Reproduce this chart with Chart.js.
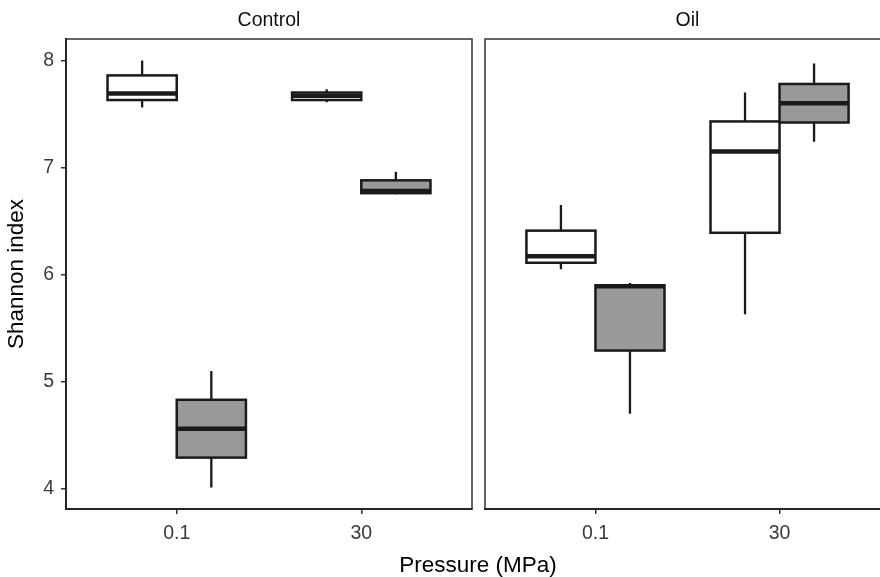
<!DOCTYPE html>
<html><head><meta charset="utf-8">
<script src="https://cdn.jsdelivr.net/npm/chart.js@4/dist/chart.umd.min.js"></script>
<style>
html,body{margin:0;padding:0;width:880px;height:577px;overflow:hidden;background:#fff;}
#c1{position:absolute;left:0;top:0;}
#c2{position:absolute;left:478px;top:0;}
#xt{position:absolute;left:328px;width:300px;top:551px;text-align:center;font-family:"Liberation Sans",Arial,sans-serif;font-size:22.5px;line-height:27px;color:#000;white-space:nowrap;}
</style></head><body>
<canvas id="c1" width="478" height="577"></canvas>
<canvas id="c2" width="420" height="577"></canvas>
<div id="xt">Pressure (MPa)</div>
<script>
// ---- data ----
const panels = ['Control', 'Oil'];
const pressures = ['0.1', '30'];
const yTicks = [4, 5, 6, 7, 8];
const yTitle = 'Shannon index';
const seriesNames = ['Group A', 'Group B']; // white, grey (no legend in original)
// each entry: [lower whisker, Q1, median, Q3, upper whisker], one per pressure
const controlWhite = [[7.56, 7.63, 7.69, 7.86, 8.00], [7.61, 7.63, 7.67, 7.70, 7.73]];
const controlGrey  = [[4.01, 4.29, 4.56, 4.83, 5.10], [6.75, 6.76, 6.78, 6.88, 6.96]];
const oilWhite     = [[6.05, 6.11, 6.17, 6.41, 6.65], [5.63, 6.39, 7.15, 7.43, 7.70]];
const oilGrey      = [[4.70, 5.29, 5.89, 5.90, 5.92], [7.24, 7.42, 7.60, 7.78, 7.97]];

// ---- styles ----
const FONT = '"Liberation Sans", Arial, sans-serif';
const fills = ['#ffffff', '#999999'];
const offsets = [-0.1875, 0.1875];
const halfW = 0.1875;
const LINE = '#1a1a1a';

const boxPlugin = {
  id: 'boxes',
  afterDatasetsDraw(chart, args, opts) {
    const { ctx, chartArea: ca, scales: { x, y } } = chart;
    ctx.save();
    opts.series.forEach((stats, si) => {
      stats.forEach((st, i) => {
        const c = (i + 1) + offsets[si];
        const xl = x.getPixelForValue(c - halfW);
        const xr = x.getPixelForValue(c + halfW);
        const xc = x.getPixelForValue(c);
        const [lo, q1, md, q3, hi] = st.map(v => y.getPixelForValue(v));
        ctx.strokeStyle = LINE;
        ctx.lineWidth = 2.3;
        ctx.beginPath();
        ctx.moveTo(xc, lo); ctx.lineTo(xc, q1);
        ctx.moveTo(xc, q3); ctx.lineTo(xc, hi);
        ctx.stroke();
        ctx.fillStyle = fills[si];
        ctx.fillRect(xl, q3, xr - xl, q1 - q3);
        ctx.lineWidth = 2.5;
        ctx.strokeRect(xl, q3, xr - xl, q1 - q3);
        ctx.lineWidth = 4.5;
        ctx.beginPath();
        ctx.moveTo(xl, md); ctx.lineTo(xr, md);
        ctx.stroke();
      });
    });
    ctx.strokeStyle = '#333333';
    ctx.lineWidth = 1.5;
    ctx.strokeRect(ca.left, ca.top, ca.right - ca.left, ca.bottom - ca.top);
    ctx.restore();
  }
};

function makePanel(canvasId, title, series, showY, padding) {
  return new Chart(document.getElementById(canvasId), {
    type: 'scatter',
    data: {
      datasets: series.map((stats, si) => ({
        label: seriesNames[si],
        data: stats.map((st, i) => ({ x: i + 1 + offsets[si], y: st[2] })),
        pointRadius: 0, pointHoverRadius: 0, showLine: false
      }))
    },
    options: {
      responsive: false,
      animation: false,
      events: [],
      layout: { padding: padding },
      plugins: {
        legend: { display: false },
        tooltip: { enabled: false },
        title: {
          display: true, text: title, fullSize: false, color: '#111',
          font: { family: FONT, size: 19.5, weight: 'normal', lineHeight: 1.2 },
          padding: { top: 9, bottom: 6.6 }
        },
        boxes: { series: series }
      },
      scales: {
        x: {
          type: 'linear', min: 0.4, max: 2.6,
          afterBuildTicks: s => { s.ticks = pressures.map((p, i) => ({ value: i + 1 })); },
          afterFit: s => { s.height = 68; },
          ticks: {
            callback: v => pressures[v - 1], color: '#3a3a3a', padding: 8,
            font: { family: FONT, size: 19.5 }, maxRotation: 0
          },
          grid: { drawOnChartArea: false, drawTicks: true, tickLength: 5, color: '#333', lineWidth: 1.5 },
          border: { display: true, color: '#000', width: 2 }
        },
        y: {
          display: showY,
          min: 3.81, max: 8.20,
          afterBuildTicks: s => { s.ticks = yTicks.map(v => ({ value: v })); },
          afterFit: s => { s.width = showY ? 66 : 0; },
          ticks: { color: '#3a3a3a', padding: 7, font: { family: FONT, size: 19.5 } },
          grid: { drawOnChartArea: false, drawTicks: true, tickLength: 5, color: '#333', lineWidth: 1.5 },
          border: { display: true, color: '#000', width: 2 },
          title: {
            display: true, text: yTitle, color: '#000',
            font: { family: FONT, size: 22.5, lineHeight: 1.2 },
            padding: { top: 3, bottom: 0 }
          }
        }
      }
    },
    plugins: [boxPlugin]
  });
}

makePanel('c1', panels[0], [controlWhite, controlGrey], true, { left: 0, right: 6, top: 0, bottom: 0 });
makePanel('c2', panels[1], [oilWhite, oilGrey], false, { left: 7, right: 8, top: 0, bottom: 0 });
</script>
</body></html>
